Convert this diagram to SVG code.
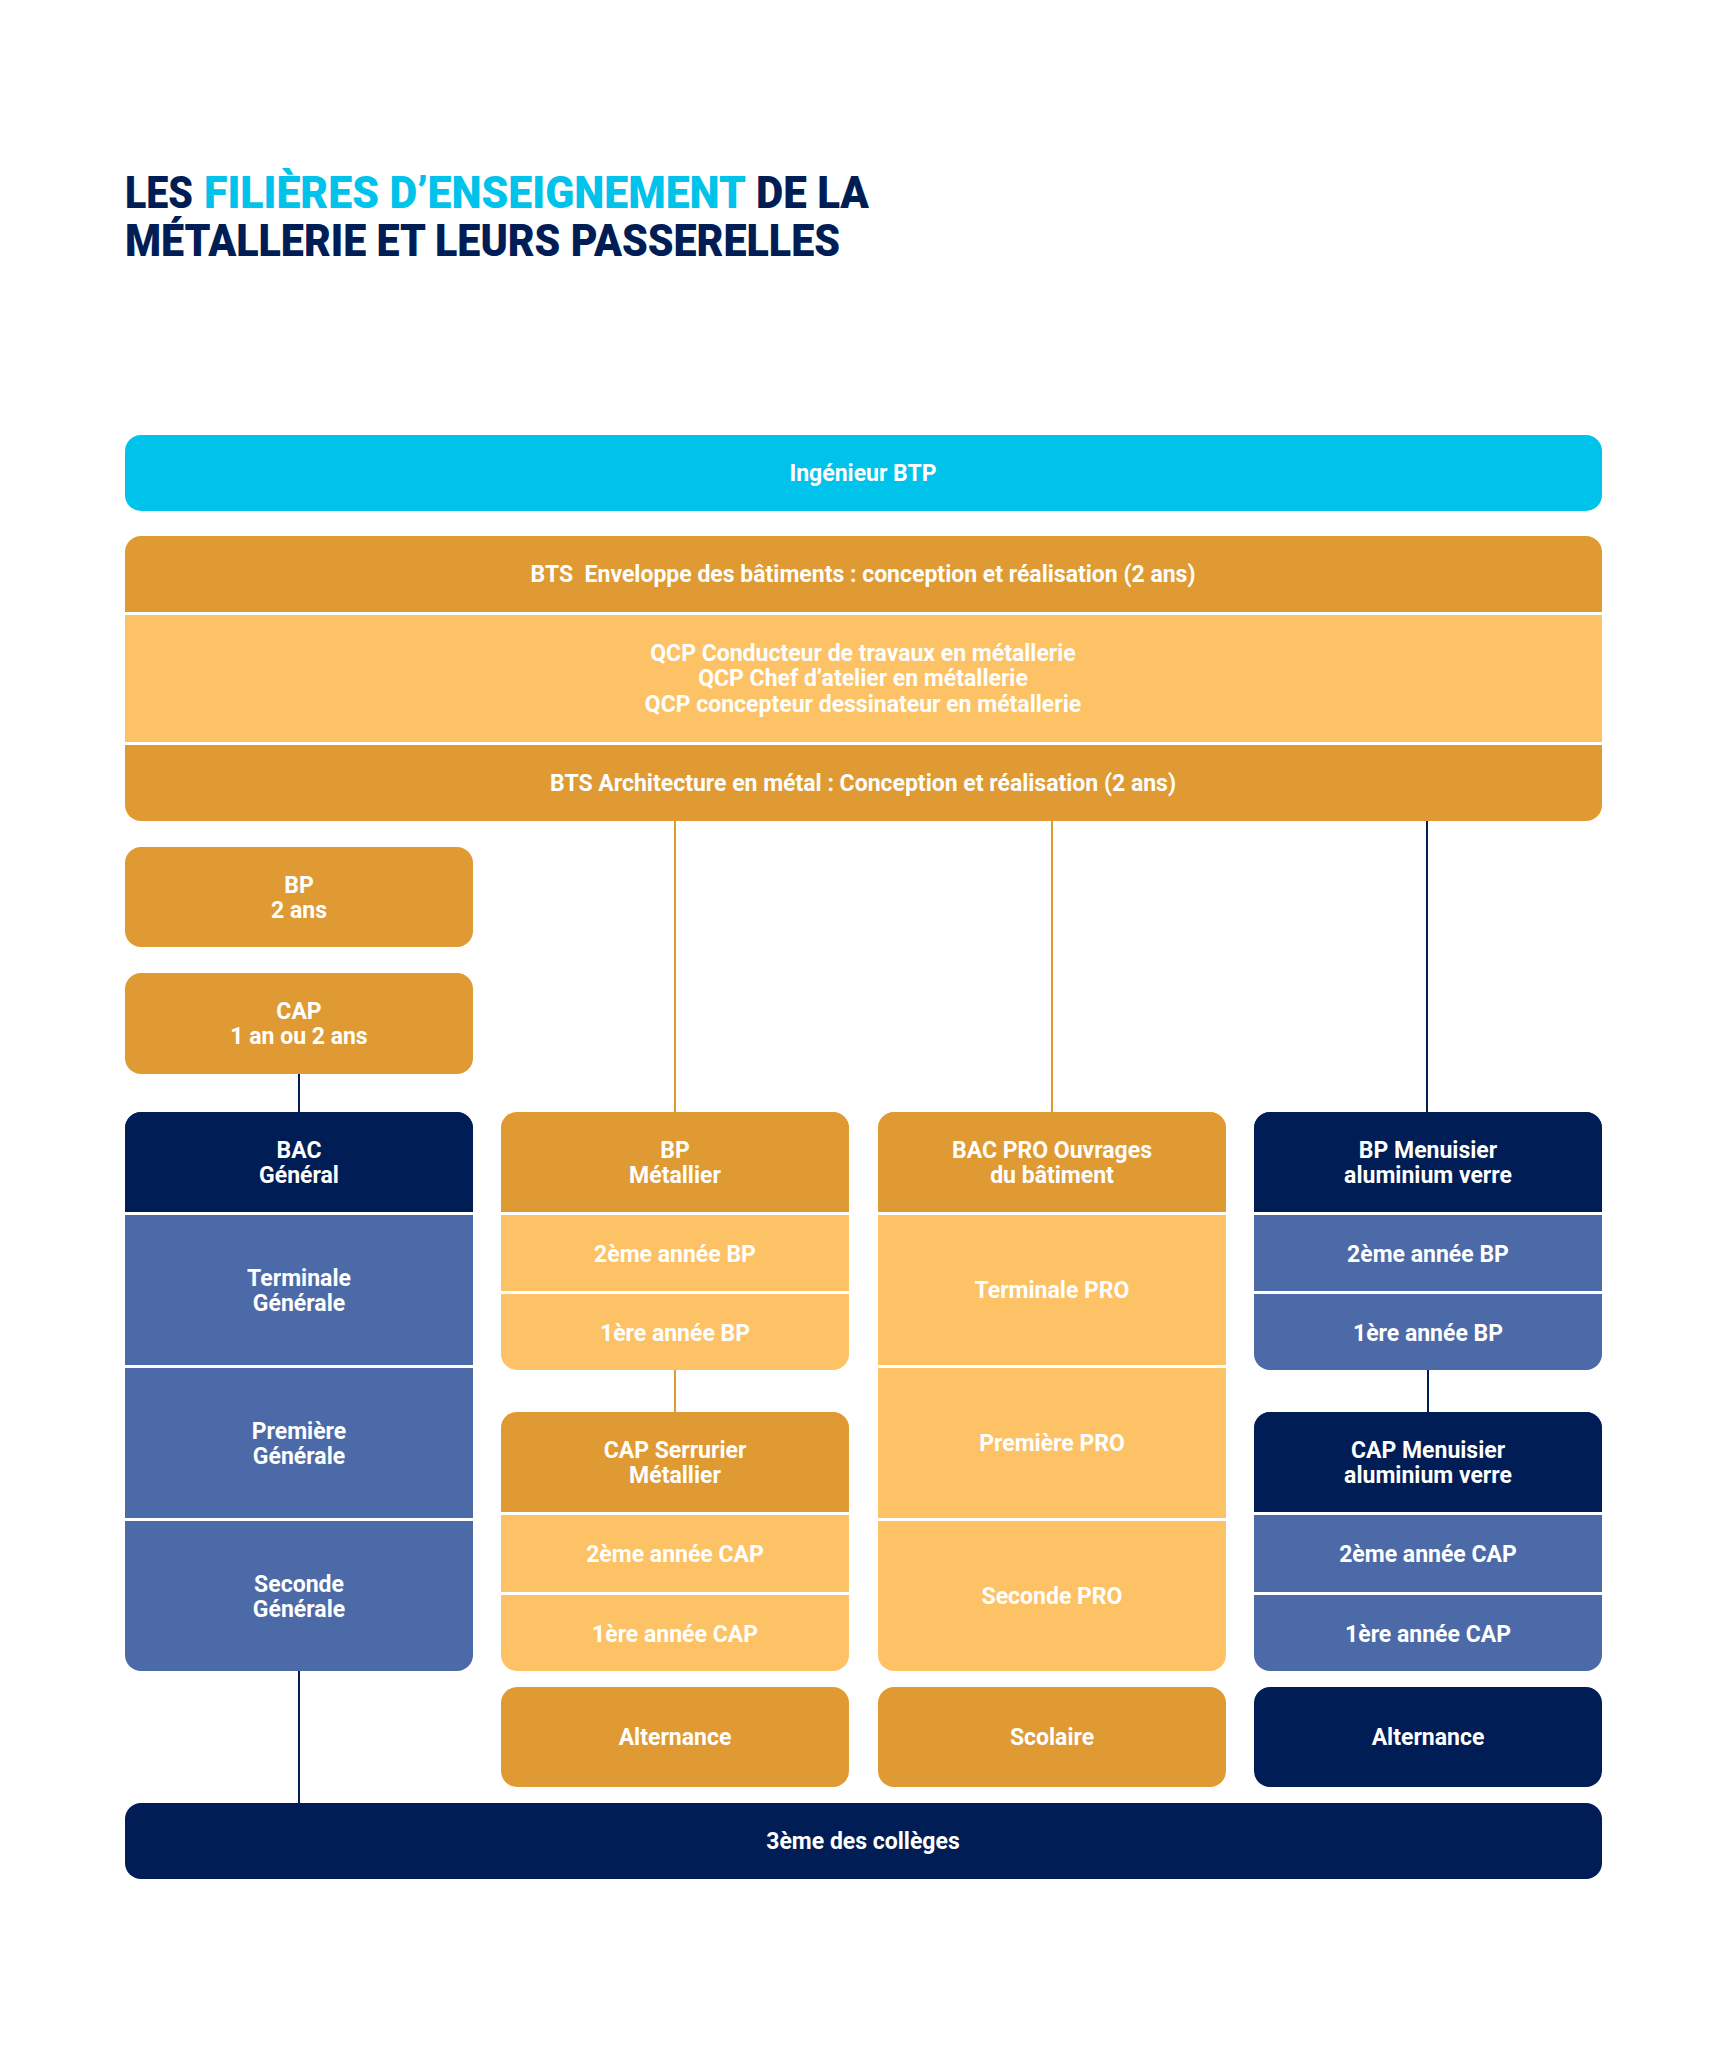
<svg xmlns="http://www.w3.org/2000/svg" width="1727" height="2048" viewBox="0 0 1727 2048">
<style>
.t{font-family:Roboto,"Liberation Sans",sans-serif;font-weight:700;font-size:23px;fill:#ffffff;text-anchor:middle;dominant-baseline:central}
.title{font-family:Roboto,"Liberation Sans",sans-serif;font-weight:900;font-size:44px;fill:#001d55}
.title.cy{fill:#00c3ec}
.cy{fill:#00c3ec}
.navy{fill:#001d55}
.blue{fill:#4c6aa8}
.dor{fill:#e09a33}
.lor{fill:#fec266}
.wh{fill:#ffffff}
.co{stroke:#e09a33;stroke-width:2;fill:none}
.cn{stroke:#001d55;stroke-width:2;fill:none}
</style>
<rect width="1727" height="2048" fill="#ffffff"/>
<g id="title">
<text class="title" x="125" y="208" textLength="68" lengthAdjust="spacingAndGlyphs">LES</text>
<text class="title cy" x="204" y="208" textLength="542" lengthAdjust="spacingAndGlyphs">FILIÈRES D’ENSEIGNEMENT</text>
<text class="title" x="756" y="208" textLength="113" lengthAdjust="spacingAndGlyphs">DE LA</text>
<text class="title" x="125" y="256" textLength="715" lengthAdjust="spacingAndGlyphs">MÉTALLERIE ET LEURS PASSERELLES</text>
</g>
<g id="connectors">
<line class="co" x1="675" y1="820" x2="675" y2="1113"/>
<line class="co" x1="1052" y1="820" x2="1052" y2="1113"/>
<line class="cn" x1="1427" y1="820" x2="1427" y2="1113"/>
<line class="cn" x1="299" y1="1073" x2="299" y2="1113"/>
<line class="co" x1="675" y1="1369" x2="675" y2="1413"/>
<line class="cn" x1="1428" y1="1369" x2="1428" y2="1413"/>
<line class="cn" x1="299" y1="1670" x2="299" y2="1804"/>
</g>
<g id="ingenieur">
<rect class="cy" x="125" y="435" width="1477" height="76" rx="16"/>
<text class="t" x="863" y="473">Ingénieur BTP</text>
</g>
<g id="bts">
<rect class="dor" x="125" y="536" width="1477" height="285" rx="16"/>
<rect class="wh" x="125" y="612" width="1477" height="3"/>
<rect class="lor" x="125" y="615" width="1477" height="127"/>
<rect class="wh" x="125" y="742" width="1477" height="3"/>
<text class="t" x="863" y="574">BTS&#160; Enveloppe des bâtiments : conception et réalisation (2 ans)</text>
<text class="t" x="863" y="653">QCP Conducteur de travaux en métallerie</text>
<text class="t" x="863" y="678">QCP Chef d’atelier en métallerie</text>
<text class="t" x="863" y="704">QCP concepteur dessinateur en métallerie</text>
<text class="t" x="863" y="783">BTS Architecture en métal : Conception et réalisation (2 ans)</text>
</g>
<g id="bp2ans">
<rect class="dor" x="125" y="847" width="348" height="100" rx="16"/>
<text class="t" x="299" y="885">BP</text>
<text class="t" x="299" y="910">2 ans</text>
</g>
<g id="cap12">
<rect class="dor" x="125" y="973" width="348" height="101" rx="16"/>
<text class="t" x="299" y="1011">CAP</text>
<text class="t" x="299" y="1036">1 an ou 2 ans</text>
</g>
<g id="bacgeneral">
<rect class="blue" x="125" y="1112" width="348" height="559" rx="16"/>
<path class="navy" d="M125 1212 V1128 A16 16 0 0 1 141 1112 H457 A16 16 0 0 1 473 1128 V1212 Z"/>
<rect class="wh" x="125" y="1212" width="348" height="3"/>
<rect class="wh" x="125" y="1365" width="348" height="3"/>
<rect class="wh" x="125" y="1518" width="348" height="3"/>
<text class="t" x="299" y="1150">BAC</text>
<text class="t" x="299" y="1175">Général</text>
<text class="t" x="299" y="1278">Terminale</text>
<text class="t" x="299" y="1303">Générale</text>
<text class="t" x="299" y="1431">Première</text>
<text class="t" x="299" y="1456">Générale</text>
<text class="t" x="299" y="1584">Seconde</text>
<text class="t" x="299" y="1609">Générale</text>
</g>
<g id="bpmetallier">
<rect class="lor" x="501" y="1112" width="348" height="258" rx="16"/>
<path class="dor" d="M501 1212 V1128 A16 16 0 0 1 517 1112 H833 A16 16 0 0 1 849 1128 V1212 Z"/>
<rect class="wh" x="501" y="1212" width="348" height="3"/>
<rect class="wh" x="501" y="1291" width="348" height="3"/>
<text class="t" x="675" y="1150">BP</text>
<text class="t" x="675" y="1175">Métallier</text>
<text class="t" x="675" y="1254">2ème année BP</text>
<text class="t" x="675" y="1333">1ère année BP</text>
</g>
<g id="capserrurier">
<rect class="lor" x="501" y="1412" width="348" height="259" rx="16"/>
<path class="dor" d="M501 1512 V1428 A16 16 0 0 1 517 1412 H833 A16 16 0 0 1 849 1428 V1512 Z"/>
<rect class="wh" x="501" y="1512" width="348" height="3"/>
<rect class="wh" x="501" y="1592" width="348" height="3"/>
<text class="t" x="675" y="1450">CAP Serrurier</text>
<text class="t" x="675" y="1475">Métallier</text>
<text class="t" x="675" y="1554">2ème année CAP</text>
<text class="t" x="675" y="1634">1ère année CAP</text>
</g>
<g id="bacpro">
<rect class="lor" x="878" y="1112" width="348" height="559" rx="16"/>
<path class="dor" d="M878 1212 V1128 A16 16 0 0 1 894 1112 H1210 A16 16 0 0 1 1226 1128 V1212 Z"/>
<rect class="wh" x="878" y="1212" width="348" height="3"/>
<rect class="wh" x="878" y="1365" width="348" height="3"/>
<rect class="wh" x="878" y="1518" width="348" height="3"/>
<text class="t" x="1052" y="1150">BAC PRO Ouvrages</text>
<text class="t" x="1052" y="1175">du bâtiment</text>
<text class="t" x="1052" y="1290">Terminale PRO</text>
<text class="t" x="1052" y="1443">Première PRO</text>
<text class="t" x="1052" y="1596">Seconde PRO</text>
</g>
<g id="bpmenuisier">
<rect class="blue" x="1254" y="1112" width="348" height="258" rx="16"/>
<path class="navy" d="M1254 1212 V1128 A16 16 0 0 1 1270 1112 H1586 A16 16 0 0 1 1602 1128 V1212 Z"/>
<rect class="wh" x="1254" y="1212" width="348" height="3"/>
<rect class="wh" x="1254" y="1291" width="348" height="3"/>
<text class="t" x="1428" y="1150">BP Menuisier</text>
<text class="t" x="1428" y="1175">aluminium verre</text>
<text class="t" x="1428" y="1254">2ème année BP</text>
<text class="t" x="1428" y="1333">1ère année BP</text>
</g>
<g id="capmenuisier">
<rect class="blue" x="1254" y="1412" width="348" height="259" rx="16"/>
<path class="navy" d="M1254 1512 V1428 A16 16 0 0 1 1270 1412 H1586 A16 16 0 0 1 1602 1428 V1512 Z"/>
<rect class="wh" x="1254" y="1512" width="348" height="3"/>
<rect class="wh" x="1254" y="1592" width="348" height="3"/>
<text class="t" x="1428" y="1450">CAP Menuisier</text>
<text class="t" x="1428" y="1475">aluminium verre</text>
<text class="t" x="1428" y="1554">2ème année CAP</text>
<text class="t" x="1428" y="1634">1ère année CAP</text>
</g>
<g id="alternance1">
<rect class="dor" x="501" y="1687" width="348" height="100" rx="16"/>
<text class="t" x="675" y="1737">Alternance</text>
</g>
<g id="scolaire">
<rect class="dor" x="878" y="1687" width="348" height="100" rx="16"/>
<text class="t" x="1052" y="1737">Scolaire</text>
</g>
<g id="alternance2">
<rect class="navy" x="1254" y="1687" width="348" height="100" rx="16"/>
<text class="t" x="1428" y="1737">Alternance</text>
</g>
<g id="troisieme">
<rect class="navy" x="125" y="1803" width="1477" height="76" rx="16"/>
<text class="t" x="863" y="1841">3ème des collèges</text>
</g>
</svg>
